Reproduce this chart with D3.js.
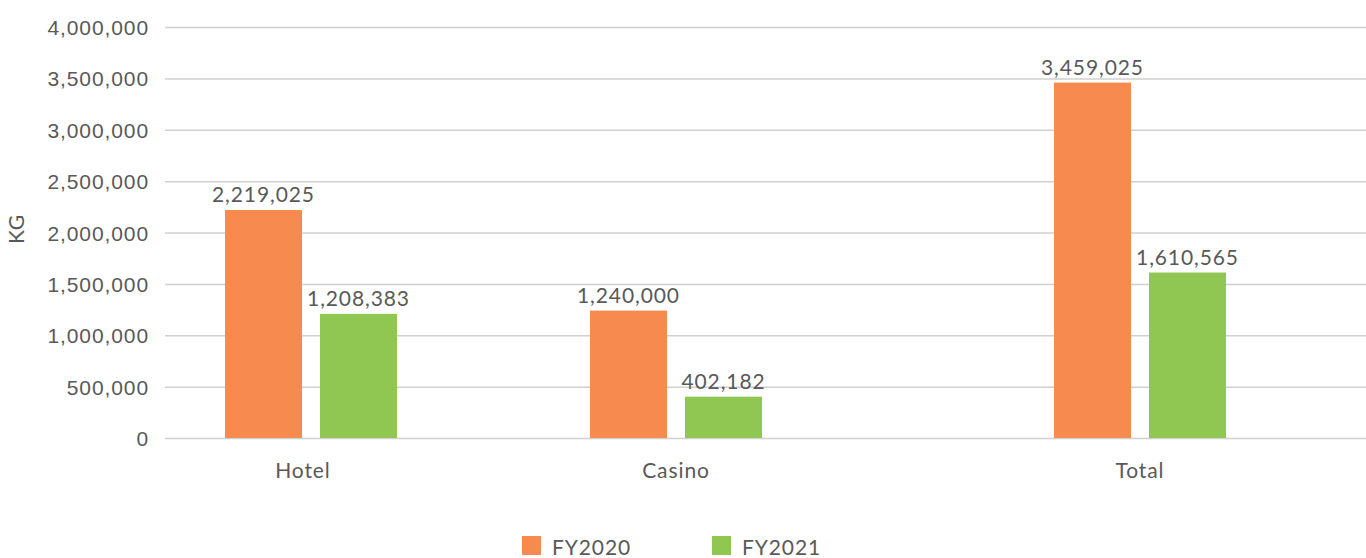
<!DOCTYPE html>
<html>
<head>
<meta charset="utf-8">
<script src="https://cdn.jsdelivr.net/npm/d3@7"></script>
<style>
  html, body { margin: 0; padding: 0; background: #fff; }
  svg { display: block; font-family: Lato, "Open Sans", sans-serif; letter-spacing: 0.9px; }
  .tick line { stroke: #d0d0d0; stroke-width: 1.5px; }
  .tick text { fill: #595959; font-size: 21px; }
</style>
</head>
<body>
<svg id="chart" width="1366" height="558"></svg>
<script>
// Waste generated (KG) by area, two fiscal years
const categories = ["Hotel", "Casino", "Total"];
const series = ["FY2020", "FY2021"];
const fy2020 = [2219025, 1240000, 3459025];
const fy2021 = [1208383, 402182, 1610565];
const yTicks = [0, 500000, 1000000, 1500000, 2000000, 2500000, 3000000, 3500000, 4000000];

const seriesValues = { FY2020: fy2020, FY2021: fy2021 };
const colors = d3.scaleOrdinal().domain(series).range(["#F78B4F", "#90C652"]);

const svg = d3.select("#chart");
const plot = { left: 165, right: 1366, top: 27, bottom: 438 };

// group centres along the category axis
const x = d3.scaleOrdinal().domain(categories).range([311, 676, 1140]);
// bars inside each group
const xInner = d3.scaleBand().domain(series).range([-86, 86]).paddingInner(0.1895).paddingOuter(0);
const y = d3.scaleLinear().domain([0, 4000000]).range([plot.bottom, plot.top]);

// value axis with gridlines
const yAxis = d3.axisLeft(y)
  .tickValues(yTicks)
  .tickFormat(d3.format(","))
  .tickSize(-(plot.right - plot.left))
  .tickPadding(16);

svg.append("g")
  .attr("transform", `translate(${plot.left},0)`)
  .call(yAxis)
  .call(g => g.select(".domain").remove())
  .call(g => g.selectAll(".tick text").attr("dy", "0.36em"));

// axis title
svg.append("text")
  .attr("transform", `translate(24,229) rotate(-90)`)
  .attr("text-anchor", "middle")
  .attr("fill", "#595959")
  .attr("font-size", 21)
  .text("KG");

// bars
const rows = categories.flatMap((c, i) => series.map(s => ({ category: c, series: s, value: seriesValues[s][i] })));

const groups = svg.append("g");
groups.selectAll("rect")
  .data(rows)
  .join("rect")
  .attr("x", d => x(d.category) + xInner(d.series))
  .attr("width", xInner.bandwidth())
  .attr("y", d => y(d.value))
  .attr("height", d => y(0) - y(d.value))
  .attr("fill", d => colors(d.series));

// value labels
groups.selectAll("text.value")
  .data(rows)
  .join("text")
  .attr("class", "value")
  .attr("x", d => x(d.category) + xInner(d.series) + xInner.bandwidth() / 2)
  .attr("y", d => y(d.value) - 8)
  .attr("text-anchor", "middle")
  .attr("fill", "#595959")
  .attr("font-size", 21)
  .text(d => d3.format(",")(d.value));

// category labels
svg.append("g").selectAll("text")
  .data(categories)
  .join("text")
  .attr("x", d => x(d) - (d === "Hotel" ? 8 : 0))
  .attr("y", 478)
  .attr("text-anchor", "middle")
  .attr("fill", "#595959")
  .attr("font-size", 21)
  .text(d => d);

// legend
const legend = svg.append("g").attr("transform", "translate(522,536)");
const item = legend.selectAll("g")
  .data(series)
  .join("g")
  .attr("transform", (d, i) => `translate(${i * 190},0)`);
item.append("rect")
  .attr("width", 19)
  .attr("height", 19)
  .attr("fill", d => colors(d));
item.append("text")
  .attr("x", 30)
  .attr("y", 19)
  .attr("fill", "#595959")
  .attr("font-size", 21)
  .text(d => d);
</script>
</body>
</html>
